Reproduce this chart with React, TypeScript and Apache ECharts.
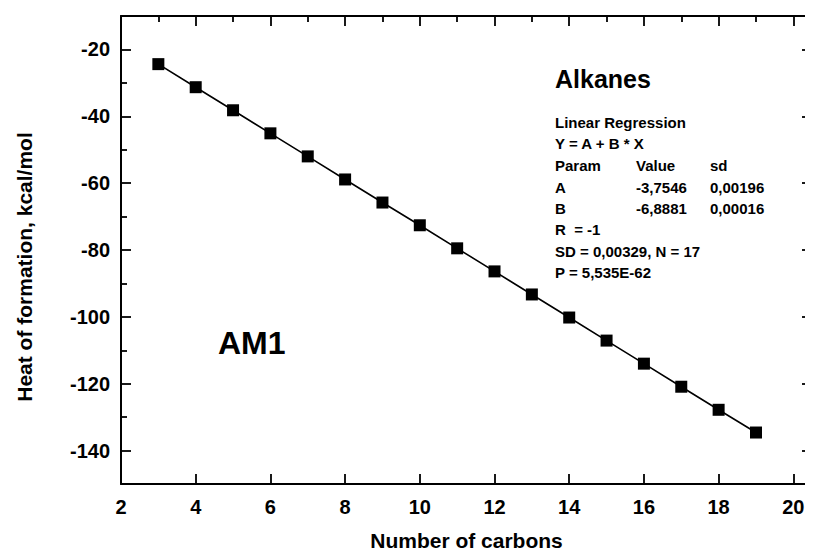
import React, { useEffect, useRef } from "react";
import * as echarts from "echarts";

const carbons = [3, 4, 5, 6, 7, 8, 9, 10, 11, 12, 13, 14, 15, 16, 17, 18, 19];
const heatOfFormation = [
  -24.4, -31.3, -38.2, -45.1, -52.0, -58.9, -65.8, -72.6, -79.5, -86.4, -93.3,
  -100.2, -107.1, -114.0, -120.9, -127.8, -134.6,
];
const xMajorTicks = [2, 4, 6, 8, 10, 12, 14, 16, 18, 20];
const xMinorTicks = [3, 5, 7, 9, 11, 13, 15, 17, 19];
const yMajorTicks = [-140, -120, -100, -80, -60, -40, -20];
const yMinorTicks = [-130, -110, -90, -70, -50, -30];

const regressionLines = ["Linear Regression", "Y = A + B * X"];
const tableParams = ["Param", "A", "B"];
const tableValues = ["Value", "-3,7546", "-6,8881"];
const tableSd = ["sd", "0,00196", "0,00016"];
const statLines = ["R  = -1", "SD = 0,00329, N = 17", "P = 5,535E-62"];

const FONT = "'Liberation Sans', Arial, sans-serif";

export default function App() {
  const ref = useRef<HTMLDivElement>(null);
  useEffect(() => {
    if (!ref.current) return;
    const chart = echarts.init(ref.current, null, { renderer: "svg" });
    const lineYs = [122, 143, 165, 187, 208, 229, 251, 272];
    const small = `bold 15px ${FONT}`;
    const graphics: any[] = [];
    const addText = (text: string, x: number, y: number, font: string, extra: any = {}) => {
      graphics.push({
        type: "text",
        x,
        y,
        silent: true,
        ...extra,
        style: { text, fill: "#000", font, textVerticalAlign: "middle", textAlign: "left", ...(extra.style || {}) },
      });
    };
    addText("Alkanes", 555, 79, `bold 25px ${FONT}`);
    regressionLines.forEach((t, i) => addText(t, 555, lineYs[i], small));
    tableParams.forEach((t, i) => addText(t, 555, lineYs[2 + i], small));
    tableValues.forEach((t, i) => addText(t, 636, lineYs[2 + i], small));
    tableSd.forEach((t, i) => addText(t, 710, lineYs[2 + i], small));
    statLines.forEach((t, i) => addText(t, 555, lineYs[5 + i], small));
    addText("AM1", 218, 343, `bold 32px ${FONT}`);
    addText("Heat of formation, kcal/mol", 24, 267, `bold 21px ${FONT}`, {
      rotation: Math.PI / 2,
      style: { textAlign: "center" },
    });

    const axisLine = { show: true, onZero: false, lineStyle: { color: "#000", width: 2 } };
    const noLine = { show: false };
    const tick = (vals: number[], length: number) => ({
      show: true,
      inside: true,
      length,
      customValues: vals,
      lineStyle: { color: "#000", width: 1.8 },
    });
    const labelStyle = { color: "#000", fontFamily: FONT, fontWeight: "bold" as const, fontSize: 20 };
    const xBase = { type: "value" as const, min: 2, max: 20.5, splitLine: { show: false } };
    const yBase = { type: "value" as const, min: -150, max: -10, splitLine: { show: false } };

    chart.setOption({
      animation: false,
      backgroundColor: "#fff",
      grid: { left: 121, top: 16, right: 1, bottom: 67, containLabel: false },
      xAxis: [
        {
          ...xBase,
          position: "bottom",
          axisLine,
          axisTick: tick(xMajorTicks, 10),
          axisLabel: { ...labelStyle, margin: 13, customValues: xMajorTicks },
          name: "Number of carbons",
          nameLocation: "middle",
          nameGap: 46,
          nameTextStyle: { color: "#000", fontFamily: FONT, fontWeight: "bold", fontSize: 21 },
        },
        {
          ...xBase,
          position: "top",
          axisLine,
          axisTick: tick(xMajorTicks, 10),
          axisLabel: { show: false },
        },
        {
          ...xBase,
          position: "top",
          axisLine: noLine,
          axisTick: tick(xMinorTicks, 6),
          axisLabel: { show: false },
        },
      ],
      yAxis: [
        {
          ...yBase,
          position: "left",
          axisLine,
          axisTick: tick(yMajorTicks, 10),
          axisLabel: { ...labelStyle, margin: 11, customValues: yMajorTicks },
        },
        {
          ...yBase,
          position: "right",
          axisLine,
          axisTick: tick(yMajorTicks, 10),
          axisLabel: { show: false },
        },
        {
          ...yBase,
          position: "left",
          axisLine: noLine,
          axisTick: tick(yMinorTicks, 6),
          axisLabel: { show: false },
        },
        {
          ...yBase,
          position: "right",
          axisLine: noLine,
          axisTick: tick(yMinorTicks, 6),
          axisLabel: { show: false },
        },
      ],
      graphic: graphics,
      series: [
        {
          type: "line",
          data: carbons.map((c, i) => [c, heatOfFormation[i]]),
          symbol: "rect",
          symbolSize: 12,
          itemStyle: { color: "#000" },
          lineStyle: { color: "#000", width: 1.6 },
          xAxisIndex: 0,
          yAxisIndex: 0,
        },
      ],
    });
    return () => chart.dispose();
  }, []);
  return <div ref={ref} style={{ width: 813, height: 556, margin: -8 }} />;
}
